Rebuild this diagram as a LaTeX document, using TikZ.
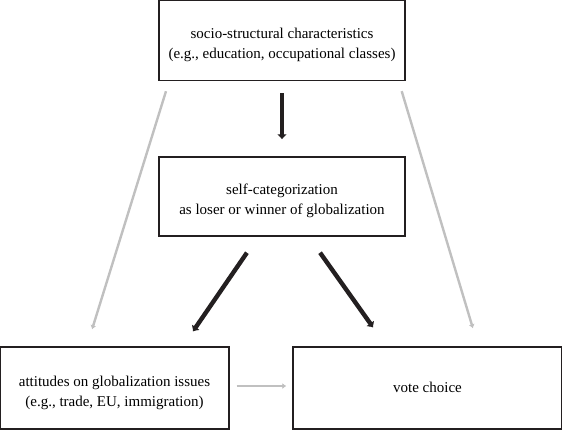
\documentclass[tikz,border=0pt]{standalone}
\usepackage{fontspec}
\setmainfont{Liberation Serif}
\usepackage{tikz}
\usetikzlibrary{arrows.meta,positioning,calc}
\definecolor{FigInk}{HTML}{231F20}
\definecolor{FigGrey}{HTML}{C0C0C0}
\newcommand{\topgap}{\rule{0pt}{20pt}}
\newcommand{\botgap}{\rule[-4pt]{0pt}{4pt}}
\tikzset{
  box/.style={draw=FigInk,line width=1.4pt,align=center,inner sep=0pt,
    font=\fontsize{15}{20}\selectfont},
  strong/.style={FigInk,line width=4.4pt,-{Latex[length=5pt,width=10pt]}},
  weak/.style={FigGrey,line width=2.4pt,-{Latex[length=4pt,width=6pt]}}
}
\begin{document}
\begin{tikzpicture}[x=1pt,y=-1pt]
  \useasboundingbox (0,0) rectangle (562,429);
  % Boxes.
  \node[box,minimum width=246pt,minimum height=80pt] (socio) at (282,40.5)
    {\topgap socio-structural characteristics\\(e.g., education, occupational classes)\botgap};
  \node[box,minimum width=246pt,minimum height=79pt] (selfcat) at (282,196.5)
    {\topgap self-categorization\\as loser or winner of globalization\botgap};
  \node[box,minimum width=229pt,minimum height=82pt] (attitudes) at (114.5,388)
    {\topgap attitudes on globalization issues\\(e.g., trade, EU, immigration)\botgap};
  \node[box,minimum width=269pt,minimum height=82pt] (vote) at (427.5,388)
    {\rule{0pt}{12pt}vote choice\botgap};

  % Main path.
  \draw[strong,shorten <=12pt,shorten >=17pt] (socio.south) -- (selfcat.north);
  \draw[strong,shorten <=19.4pt,shorten >=18pt]
    ($(selfcat.south)+(-24.1,0)$) -- ($(attitudes.north)+(68.2,0)$);
  \draw[strong,shorten <=19.6pt,shorten >=23pt]
    ($(selfcat.south)+(26.7,0)$) -- ($(vote.north)+(-41,0)$);

  % Direct effects.
  \draw[weak,shorten <=10.5pt,shorten >=17.8pt]
    ($(socio.south)+(-112.9,0)$) -- ($(attitudes.north)+(-27.7,0)$);
  \draw[weak,shorten <=10.4pt,shorten >=18.8pt]
    ($(socio.south)+(116.7,0)$) -- ($(vote.north)+(50.8,0)$);
  \draw[weak,shorten <=7pt,shorten >=6pt]
    ($(attitudes.east)+(0,-2)$) -- ($(vote.west)+(0,-2)$);
\end{tikzpicture}
\end{document}
